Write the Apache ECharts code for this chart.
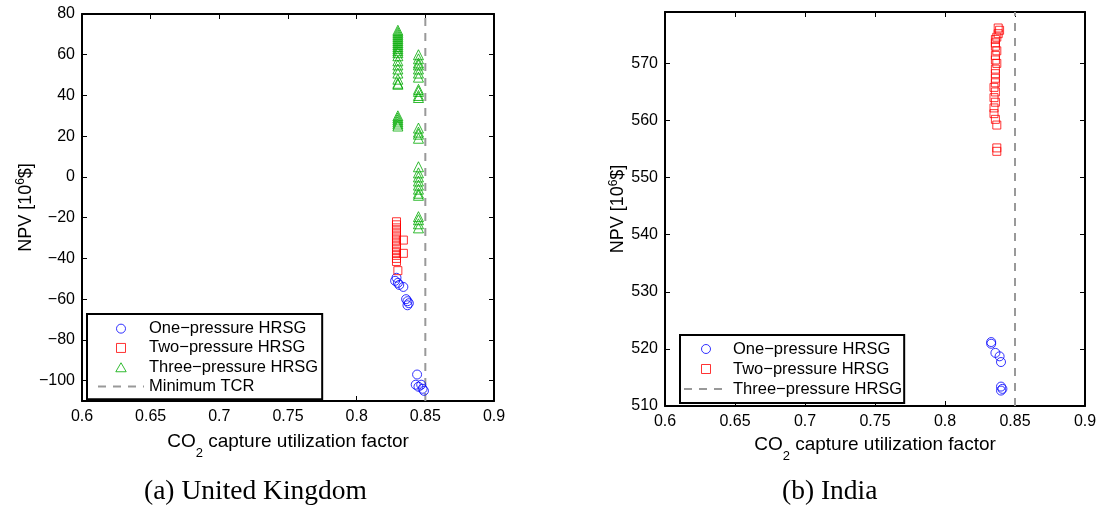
<!DOCTYPE html>
<html><head><meta charset="utf-8">
<script src="https://cdn.jsdelivr.net/npm/echarts@6/dist/echarts.min.js"></script>
<style>html,body{margin:0;padding:0;background:#fff}#c{width:1104px;height:510px}</style>
</head><body><div id="c"></div>
<script>
// ---- data ----
const xTicks = [0.6, 0.65, 0.7, 0.75, 0.8, 0.85, 0.9];
const ukYTicks = [-100, -80, -60, -40, -20, 0, 20, 40, 60, 80];
const inYTicks = [510, 520, 530, 540, 550, 560, 570];
const ukYRange = [-110, 80];
const inYRange = [510, 579];
const tcrX = 0.85;

const ukOne = [[0.829,-49.5],[0.828,-51],[0.830,-52],[0.831,-53],[0.834,-54],[0.836,-60],[0.837,-61],[0.838,-62],[0.837,-63],[0.844,-97],[0.843,-102],[0.845,-103],[0.847,-102],[0.848,-104],[0.849,-105]];
const ukTwo = [[0.829,-22],[0.829,-23.5],[0.829,-25],[0.829,-26.5],[0.829,-28],[0.829,-29.5],[0.829,-31],[0.829,-32.5],[0.829,-34],[0.829,-35.5],[0.829,-37],[0.829,-38.5],[0.829,-40],[0.829,-41.5],[0.834,-31],[0.834,-37.5],[0.830,-46]];
const ukThree = [[0.830,72],[0.830,71],[0.830,70],[0.830,69],[0.830,68],[0.830,67],[0.830,66],[0.830,65],[0.830,64],[0.830,63],[0.830,62],[0.830,61],[0.830,59.5],[0.830,57],[0.830,55],[0.830,53],[0.830,51],[0.830,48],[0.830,46],[0.830,45.5],[0.830,30],[0.830,29],[0.830,28],[0.830,27],[0.830,26],[0.830,25],
  [0.845,60],[0.845,58],[0.845,56],[0.845,55],[0.845,53],[0.845,51],[0.845,49],[0.845,43],[0.845,42],[0.845,40],[0.845,39],[0.845,24],[0.845,22],[0.845,21],[0.845,19],[0.845,5],[0.845,2],[0.845,0],[0.845,-2],[0.845,-4],[0.845,-6],[0.845,-8],[0.845,-9],[0.845,-19.5],[0.845,-21],[0.845,-23],[0.845,-25]];
const inOne = [[0.833,521.2],[0.833,520.9],[0.836,519.3],[0.839,518.7],[0.840,517.7],[0.840,513.4],[0.841,513.0],[0.840,512.7]];
const inTwo = [[0.838,576.2],[0.839,575.8],[0.838,575.2],[0.837,574.6],[0.836,574.2],[0.836,573.6],[0.836,573.0],[0.837,572.2],[0.836,571.4],[0.836,570.6],[0.837,570.0],[0.836,569.0],[0.836,568.2],[0.836,567.4],[0.836,566.6],[0.835,565.8],[0.836,565.0],[0.835,564.0],[0.836,563.2],[0.835,562.2],[0.835,561.2],[0.836,560.2],[0.837,559.2],[0.837,555.2],[0.837,554.6]];

const nOne = 'One\u2212pressure HRSG';
const nTwo = 'Two\u2212pressure HRSG';
const nThree = 'Three\u2212pressure HRSG';
const nTcr = 'Minimum TCR';
const nThreeB = 'Three\u2212pressure\u00a0HRSG';

// ---- styles ----
const BLUE = '#0000ff', RED = '#ff0000', GREEN = '#00aa00', GRAY = '#999999';
const SANS = 'Liberation Sans, Arial, sans-serif';
const minus = v => String(v).replace('-', '\u2212');
const ICON_SQ = 'path://M0,0H10V10H0Z';
const ICON_TRI = 'path://M5,0L10,8.66L0,8.66Z';

function xAx(grid, pos, named) {
  const a = {
    gridIndex: grid, type: 'value', min: 0.6, max: 0.9, position: pos,
    axisLine: {show: true, onZero: false, lineStyle: {color: '#000', width: 2}},
    axisTick: {show: true, inside: true, length: 5, customValues: xTicks, lineStyle: {color: '#000', width: 1}},
    axisLabel: {show: pos === 'bottom', customValues: xTicks, fontFamily: SANS, fontSize: 16, color: '#000', margin: 8},
    splitLine: {show: false}
  };
  if (named) {
    a.name = '{a|CO}{s|2}{a| capture utilization factor}';
    a.nameLocation = 'middle';
    a.nameGap = grid === 0 ? 31 : 26;
    a.nameTextStyle = {rich: {
      a: {fontFamily: SANS, fontSize: 19, color: '#000', lineHeight: 20, verticalAlign: 'top'},
      s: {fontFamily: SANS, fontSize: 13, color: '#000', lineHeight: 28, verticalAlign: 'bottom'}
    }};
  }
  return a;
}
function yAx(grid, pos, range, ticks, named, gap) {
  const a = {
    gridIndex: grid, type: 'value', min: range[0], max: range[1], position: pos,
    axisLine: {show: true, onZero: false, lineStyle: {color: '#000', width: 2}},
    axisTick: {show: true, inside: true, length: 5, customValues: ticks, lineStyle: {color: '#000', width: 1}},
    axisLabel: {show: pos === 'left', customValues: ticks, fontFamily: SANS, fontSize: 16, color: '#000', margin: 7, formatter: minus},
    splitLine: {show: false}
  };
  if (named) {
    a.name = '{a|NPV [10}{p|6}{a|$]}';
    a.nameLocation = 'middle';
    a.nameRotate = 90;
    a.nameGap = gap;
    a.nameTextStyle = {rich: {
      a: {fontFamily: SANS, fontSize: 18, color: '#000', lineHeight: 20, verticalAlign: 'bottom'},
      p: {fontFamily: SANS, fontSize: 12, color: '#000', lineHeight: 12, verticalAlign: 'top'}
    }};
  }
  return a;
}
function sc(name, data, sym, size, color, xi, yi) {
  return {type: 'scatter', name, data, symbol: sym, symbolSize: size, xAxisIndex: xi, yAxisIndex: yi,
    itemStyle: {color: 'transparent', borderColor: color, borderWidth: 1}, silent: true, z: 3};
}
function tcr(name, range, xi, yi) {
  return {type: 'line', name, data: [[tcrX, range[0]], [tcrX, range[1]]], xAxisIndex: xi, yAxisIndex: yi,
    symbol: 'none', showSymbol: false, lineStyle: {color: GRAY, width: 2, type: [8, 7]}, itemStyle: {color: GRAY}, silent: true, z: 2};
}
const hiddenDot = {color: 'rgba(0,0,0,0)', borderColor: 'rgba(0,0,0,0)', borderWidth: 0};
function leg(left, top, data, lh, pad, iw) {
  return {left, top, orient: 'vertical', data, selectedMode: false, symbolKeepAspect: true,
    backgroundColor: '#fff', borderColor: '#000', borderWidth: 2, borderRadius: 0, padding: pad,
    itemWidth: iw, itemHeight: 9, itemGap: 0, itemStyle: {borderWidth: 1},
    textStyle: {fontFamily: SANS, fontSize: 16.5, color: '#000', lineHeight: lh}};
}

const option = {
  animation: false,
  backgroundColor: '#fff',
  grid: [
    {left: 82, top: 14, width: 412, height: 387},
    {left: 665, top: 12, width: 420, height: 394}
  ],
  xAxis: [xAx(0, 'bottom', true), xAx(0, 'top', false), xAx(1, 'bottom', true), xAx(1, 'top', false)],
  yAxis: [
    yAx(0, 'left', ukYRange, ukYTicks, true, 46), yAx(0, 'right', ukYRange, ukYTicks, false),
    yAx(1, 'left', inYRange, inYTicks, true, 36), yAx(1, 'right', inYRange, inYTicks, false)
  ],
  legend: [
    leg(87, 314, [
      {name: nOne, icon: 'circle'},
      {name: nTwo, icon: ICON_SQ},
      {name: nThree, icon: ICON_TRI},
      {name: nTcr, itemStyle: hiddenDot}
    ], 19.3, [5, 4, 3, 10], 46),
    leg(680, 335, [
      {name: nOne, icon: 'circle'},
      {name: nTwo, icon: ICON_SQ},
      {name: nThreeB, itemStyle: hiddenDot}
    ], 20, [4, 2, 4, 3], 44)
  ],
  graphic: [
    {type: 'text', left: 144, top: 478, style: {text: '(a) United Kingdom', font: '27.5px "Liberation Serif", serif', fill: '#000'}},
    {type: 'text', left: 782, top: 478, style: {text: '(b) India', font: '27.5px "Liberation Serif", serif', fill: '#000'}}
  ],
  series: [
    tcr(nTcr, ukYRange, 0, 0),
    sc(nOne, ukOne, 'circle', 9, BLUE, 0, 0),
    sc(nTwo, ukTwo, 'rect', 8, RED, 0, 0),
    sc(nThree, ukThree, 'triangle', 10, GREEN, 0, 0),
    tcr(nThreeB, inYRange, 2, 2),
    sc(nOne, inOne, 'circle', 9, BLUE, 2, 2),
    sc(nTwo, inTwo, 'rect', 8, RED, 2, 2)
  ]
};
const chart = echarts.init(document.getElementById('c'), null, {renderer: 'canvas'});
chart.setOption(option);
</script>
</body></html>
